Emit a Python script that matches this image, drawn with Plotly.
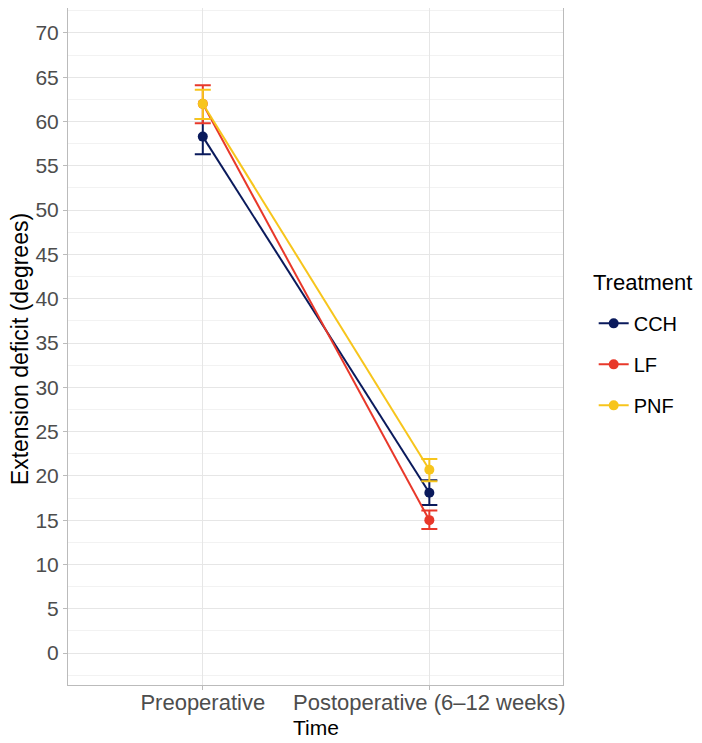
import plotly.graph_objects as go

time_labels = ["Preoperative", "Postoperative (6\u201312 weeks)"]
time_pos = [1, 2]
treatments = ["CCH", "LF", "PNF"]
colors = ["#0A1A5C", "#E8382A", "#F7C51C"]
means = {
    "CCH": [58.3, 18.1],
    "LF": [62.0, 15.0],
    "PNF": [62.0, 20.7],
}
upper = {
    "CCH": [60.3, 19.5],
    "LF": [64.1, 16.1],
    "PNF": [63.6, 21.9],
}
lower = {
    "CCH": [56.3, 16.7],
    "LF": [59.8, 14.0],
    "PNF": [60.3, 19.4],
}
y_ticks = list(range(0, 71, 5))

fig = go.Figure()
for t, c in zip(treatments, colors):
    m = means[t]
    fig.add_trace(go.Scatter(
        x=time_pos, y=m, mode="lines+markers", name=t,
        legendgroup=t,
        line=dict(color=c, width=2),
        marker=dict(color=c, size=10),
        error_y=dict(type="data", symmetric=False,
                     array=[u - v for u, v in zip(upper[t], m)],
                     arrayminus=[v - l for v, l in zip(m, lower[t])],
                     color=c, thickness=2, width=8),
    ))

grid = "#E6E6E6"
L, W = 60, 495
fig.update_layout(
    width=694, height=735,
    margin=dict(l=L, r=694 - L - W, t=0, b=58),
    plot_bgcolor="white", paper_bgcolor="white",
    font=dict(family="Liberation Sans, Arial, sans-serif", color="#4D4D4D", size=22),
    legend=dict(
        font=dict(size=20, color="black"),
        x=1.062, xanchor="left", y=0.563, yanchor="top",
        tracegroupgap=12, itemwidth=30,
        bgcolor="rgba(0,0,0,0)",
    ),
    annotations=[
        dict(text="Treatment", xref="paper", yref="paper",
             x=1.056, xanchor="left", y=0.573, yanchor="bottom",
             showarrow=False, font=dict(size=22, color="black")),
        dict(text="Extension deficit (degrees)", xref="paper", yref="paper",
             x=(12 - L) / W, xanchor="center", y=0.496, yanchor="middle", textangle=-90,
             showarrow=False, font=dict(size=23, color="black")),
        dict(text="Time", xref="paper", yref="paper",
             x=0.502, xanchor="center", y=-0.0635, yanchor="middle",
             showarrow=False, font=dict(size=21, color="black")),
    ],
    xaxis=dict(
        range=[0.405, 2.59], tickvals=time_pos, ticktext=time_labels,
        showgrid=True, gridcolor=grid, gridwidth=1,
        ticks="outside", ticklen=4, tickcolor="#BBBBBB",
        showline=True, linecolor="#BBBBBB", mirror=True, linewidth=1,
        zeroline=False, ticklabelstandoff=-6,
        tickfont=dict(size=22, color="#4D4D4D"),
    ),
    yaxis=dict(
        range=[-3.61, 72.82], tickvals=y_ticks,
        showgrid=True, gridcolor=grid, gridwidth=1,
        minor=dict(dtick=2.5, tick0=2.5, showgrid=True, gridcolor="#F2F2F2", gridwidth=1),
        ticks="outside", ticklen=4, tickcolor="#BBBBBB",
        showline=True, linecolor="#BBBBBB", mirror=True, linewidth=1,
        zeroline=False,
        tickfont=dict(size=21, color="#4D4D4D"),
    ),
)
fig.write_html("out.html")
